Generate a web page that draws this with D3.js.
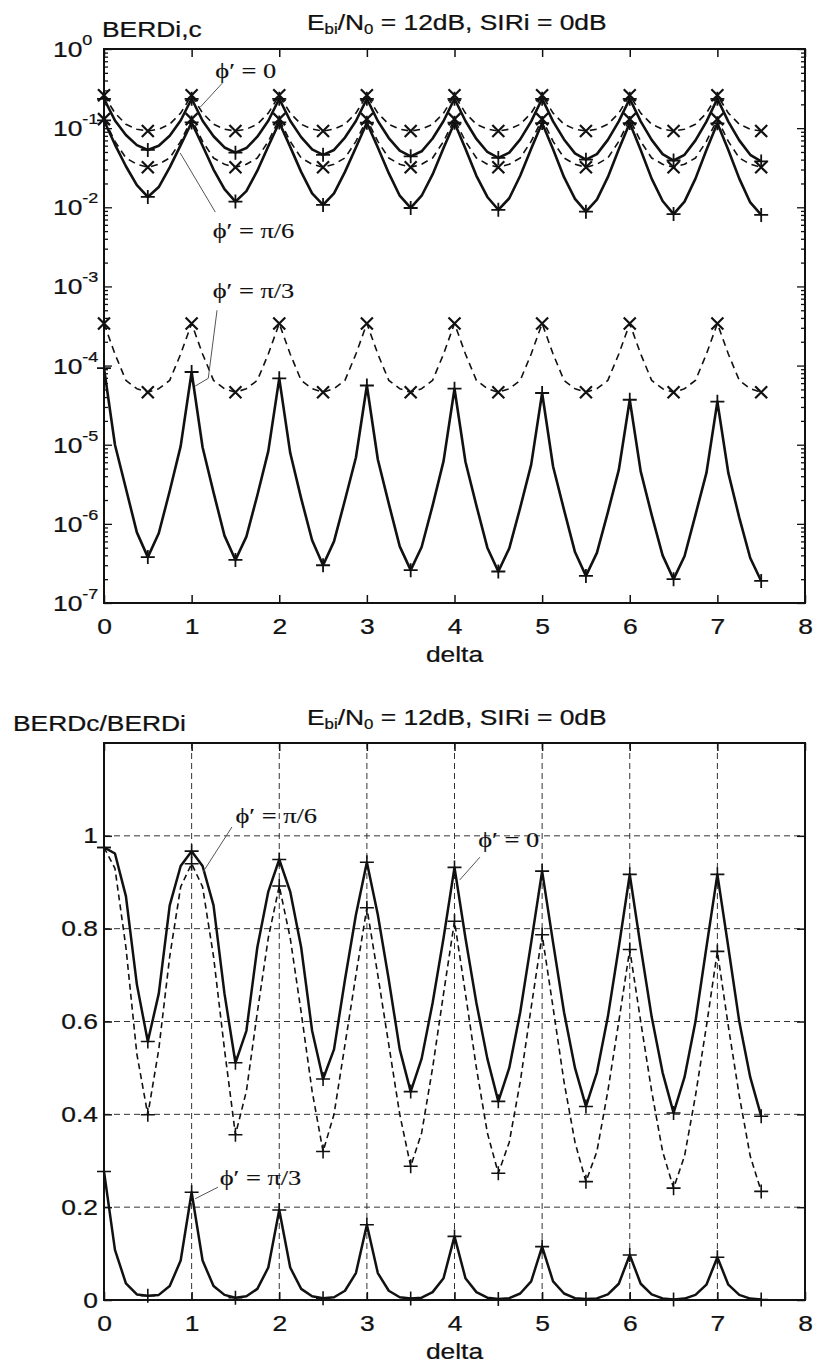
<!DOCTYPE html>
<html>
<head>
<meta charset="utf-8">
<script src="https://cdn.jsdelivr.net/npm/d3@7"></script>
<style>
  body { margin: 0; background: #fff; }
  svg { display: block; background: #fff; }
</style>
</head>
<body>
<svg id="chart" width="814" height="1368"></svg>
<script>
// delta sampling grid (curves are sampled every 1/8, markers every 1/2)
const delta = [
  0, 0.125, 0.25, 0.375, 0.5, 0.625, 0.75, 0.875,
  1, 1.125, 1.25, 1.375, 1.5, 1.625, 1.75, 1.875,
  2, 2.125, 2.25, 2.375, 2.5, 2.625, 2.75, 2.875,
  3, 3.125, 3.25, 3.375, 3.5, 3.625, 3.75, 3.875,
  4, 4.125, 4.25, 4.375, 4.5, 4.625, 4.75, 4.875,
  5, 5.125, 5.25, 5.375, 5.5, 5.625, 5.75, 5.875,
  6, 6.125, 6.25, 6.375, 6.5, 6.625, 6.75, 6.875,
  7, 7.125, 7.25, 7.375, 7.5
];

const xTicks = [0, 1, 2, 3, 4, 5, 6, 7, 8];
const yTopTicks = [1e-7, 1e-6, 1e-5, 1e-4, 1e-3, 1e-2, 1e-1, 1];
const yBotTicks = [0, 0.2, 0.4, 0.6, 0.8, 1];

// ---- upper plot: BERDi (dashed, x) and BERDc (solid, +) ----
const berdiPhi0 = [
  0.26, 0.155, 0.112, 0.097, 0.092, 0.097, 0.112, 0.155,
  0.26, 0.155, 0.112, 0.097, 0.092, 0.097, 0.112, 0.155,
  0.26, 0.155, 0.112, 0.097, 0.092, 0.097, 0.112, 0.155,
  0.26, 0.155, 0.112, 0.097, 0.092, 0.097, 0.112, 0.155,
  0.26, 0.155, 0.112, 0.097, 0.092, 0.097, 0.112, 0.155,
  0.26, 0.155, 0.112, 0.097, 0.092, 0.097, 0.112, 0.155,
  0.26, 0.155, 0.112, 0.097, 0.092, 0.097, 0.112, 0.155,
  0.26, 0.155, 0.112, 0.097, 0.092
];
const berdcPhi0 = [
  0.235, 0.125, 0.082, 0.061, 0.053, 0.060, 0.080, 0.125,
  0.235, 0.124, 0.079, 0.057, 0.049, 0.056, 0.078, 0.124,
  0.235, 0.124, 0.077, 0.054, 0.046, 0.053, 0.076, 0.123,
  0.235, 0.123, 0.075, 0.052, 0.044, 0.051, 0.074, 0.123,
  0.235, 0.123, 0.073, 0.050, 0.042, 0.049, 0.072, 0.122,
  0.235, 0.122, 0.072, 0.048, 0.040, 0.047, 0.071, 0.122,
  0.235, 0.122, 0.071, 0.047, 0.039, 0.046, 0.070, 0.121,
  0.235, 0.121, 0.070, 0.046, 0.038
];
const berdiPi6 = [
  0.13, 0.068, 0.042, 0.035, 0.032, 0.035, 0.042, 0.068,
  0.13, 0.068, 0.042, 0.035, 0.032, 0.035, 0.042, 0.068,
  0.13, 0.068, 0.042, 0.035, 0.032, 0.035, 0.042, 0.068,
  0.13, 0.068, 0.042, 0.035, 0.032, 0.035, 0.042, 0.068,
  0.13, 0.068, 0.042, 0.035, 0.032, 0.035, 0.042, 0.068,
  0.13, 0.068, 0.042, 0.035, 0.032, 0.035, 0.042, 0.068,
  0.13, 0.068, 0.042, 0.035, 0.032, 0.035, 0.042, 0.068,
  0.13, 0.068, 0.042, 0.035, 0.032
];
const berdcPi6 = [
  0.125, 0.062, 0.033, 0.019, 0.0135, 0.018, 0.032, 0.061,
  0.118, 0.060, 0.030, 0.017, 0.0118, 0.016, 0.029, 0.059,
  0.118, 0.058, 0.028, 0.015, 0.0107, 0.015, 0.028, 0.057,
  0.117, 0.057, 0.027, 0.014, 0.0098, 0.014, 0.026, 0.056,
  0.117, 0.055, 0.025, 0.0135, 0.0093, 0.013, 0.025, 0.055,
  0.116, 0.054, 0.024, 0.0128, 0.0088, 0.0125, 0.024, 0.054,
  0.116, 0.053, 0.023, 0.012, 0.0082, 0.0118, 0.023, 0.053,
  0.115, 0.053, 0.023, 0.0115, 0.0080
];
const berdiPi3 = [
  3.4e-4, 1.4e-4, 6.5e-5, 5.1e-5, 4.6e-5, 5.1e-5, 6.5e-5, 1.4e-4,
  3.4e-4, 1.4e-4, 6.5e-5, 5.1e-5, 4.6e-5, 5.1e-5, 6.5e-5, 1.4e-4,
  3.4e-4, 1.4e-4, 6.5e-5, 5.1e-5, 4.6e-5, 5.1e-5, 6.5e-5, 1.4e-4,
  3.4e-4, 1.4e-4, 6.5e-5, 5.1e-5, 4.6e-5, 5.1e-5, 6.5e-5, 1.4e-4,
  3.4e-4, 1.4e-4, 6.5e-5, 5.1e-5, 4.6e-5, 5.1e-5, 6.5e-5, 1.4e-4,
  3.4e-4, 1.4e-4, 6.5e-5, 5.1e-5, 4.6e-5, 5.1e-5, 6.5e-5, 1.4e-4,
  3.4e-4, 1.4e-4, 6.5e-5, 5.1e-5, 4.6e-5, 5.1e-5, 6.5e-5, 1.4e-4,
  3.4e-4, 1.4e-4, 6.5e-5, 5.1e-5, 4.6e-5
];
const berdcPi3 = [
  9.3e-5, 1.0e-5, 2.8e-6, 7.8e-7, 3.8e-7, 7.6e-7, 2.6e-6, 9.6e-6,
  8.3e-5, 9.3e-6, 2.5e-6, 7.1e-7, 3.5e-7, 6.9e-7, 2.3e-6, 8.3e-6,
  6.9e-5, 7.9e-6, 2.1e-6, 6.2e-7, 3.0e-7, 6.0e-7, 2.0e-6, 6.9e-6,
  5.6e-5, 6.5e-6, 1.8e-6, 5.2e-7, 2.6e-7, 5.1e-7, 1.7e-6, 6.2e-6,
  5.1e-5, 6.1e-6, 1.7e-6, 5.0e-7, 2.5e-7, 4.9e-7, 1.6e-6, 5.6e-6,
  4.5e-5, 5.3e-6, 1.5e-6, 4.4e-7, 2.2e-7, 4.3e-7, 1.4e-6, 4.8e-6,
  3.7e-5, 4.6e-6, 1.3e-6, 4.0e-7, 2.0e-7, 3.9e-7, 1.3e-6, 4.4e-6,
  3.5e-5, 4.4e-6, 1.2e-6, 3.7e-7, 1.9e-7
];

// ---- lower plot: BERDc / BERDi ----
const ratioPhi0 = [
  0.975, 0.962, 0.87, 0.68, 0.557, 0.66, 0.85, 0.935,
  0.967, 0.935, 0.85, 0.66, 0.511, 0.58, 0.76, 0.88,
  0.949, 0.88, 0.76, 0.58, 0.476, 0.54, 0.69, 0.83,
  0.943, 0.83, 0.69, 0.54, 0.449, 0.52, 0.64, 0.78,
  0.932, 0.78, 0.64, 0.52, 0.428, 0.50, 0.62, 0.77,
  0.924, 0.77, 0.62, 0.50, 0.417, 0.49, 0.61, 0.76,
  0.917, 0.76, 0.61, 0.49, 0.403, 0.48, 0.60, 0.76,
  0.917, 0.76, 0.60, 0.48, 0.396
];
const ratioPi6 = [
  0.975, 0.93, 0.76, 0.53, 0.399, 0.54, 0.74, 0.89,
  0.94, 0.89, 0.74, 0.54, 0.356, 0.45, 0.62, 0.78,
  0.892, 0.78, 0.62, 0.45, 0.320, 0.40, 0.55, 0.70,
  0.845, 0.70, 0.55, 0.40, 0.288, 0.36, 0.50, 0.66,
  0.816, 0.66, 0.50, 0.36, 0.273, 0.34, 0.47, 0.63,
  0.787, 0.63, 0.47, 0.34, 0.255, 0.32, 0.45, 0.60,
  0.755, 0.60, 0.45, 0.32, 0.241, 0.31, 0.44, 0.59,
  0.751, 0.59, 0.44, 0.31, 0.234
];
const ratioPi3 = [
  0.277, 0.108, 0.036, 0.012, 0.009, 0.011, 0.030, 0.085,
  0.232, 0.085, 0.030, 0.011, 0.005, 0.008, 0.024, 0.070,
  0.194, 0.070, 0.024, 0.008, 0.004, 0.006, 0.020, 0.058,
  0.162, 0.058, 0.020, 0.006, 0.003, 0.005, 0.017, 0.047,
  0.137, 0.047, 0.017, 0.005, 0.002, 0.004, 0.014, 0.040,
  0.115, 0.040, 0.014, 0.004, 0.002, 0.0035, 0.012, 0.035,
  0.097, 0.035, 0.012, 0.0035, 0.001, 0.003, 0.011, 0.033,
  0.092, 0.033, 0.011, 0.003, 0.001
];

const INK = '#111';
const SX = 1.2; // the scanned font is wide, stretch glyphs horizontally
const SANS = '"Liberation Sans", Arial, sans-serif';
const SERIF = '"Liberation Serif", "Times New Roman", "DejaVu Serif", serif';

const svg = d3.select('#chart');

const xTop = d3.scaleLinear().domain([0, 8]).range([104, 805]);
const yTop = d3.scaleLog().domain([1e-7, 1]).range([603, 49]);
const xBot = d3.scaleLinear().domain([0, 8]).range([104, 805]);
const yBot = d3.scaleLinear().domain([0, 1.2]).range([1300, 743]);

const plusPath = 'M-7,0H7M0,-7V7';
const crossPath = 'M-6,-6L6,6M-6,6L6,-6';

function inked(sel) {
  // the scan is heavy, thicken glyphs a little
  sel.attr('fill', INK).attr('stroke', INK).attr('stroke-width', 0.25);
}

function widen(sel) {
  sel.each(function () {
    const t = d3.select(this);
    const x = +t.attr('x') || 0;
    t.attr('x', 0).attr('transform', `translate(${x},0) scale(${SX},1)`);
  });
}

function text(g, x, y, str, size, anchor, family) {
  return g.append('text')
    .attr('transform', `translate(${x},${y}) scale(${SX},1)`)
    .attr('font-family', family || SANS)
    .attr('font-size', size)
    .attr('text-anchor', anchor || 'start')
    .call(inked)
    .text(str);
}

function frame(g, x, y) {
  const [x0, x1] = x.range();
  const [yb, yt] = y.range();
  g.append('rect')
    .attr('x', x0).attr('y', yt)
    .attr('width', x1 - x0).attr('height', yb - yt)
    .attr('fill', 'none').attr('stroke', INK).attr('stroke-width', 2);
}

function xAxes(g, x, y) {
  const bottom = g.append('g')
    .attr('transform', `translate(0,${y.range()[0]})`)
    .call(d3.axisBottom(x).tickValues(xTicks).tickSize(-8).tickPadding(15).tickFormat(d3.format('d')));
  const top = g.append('g')
    .attr('transform', `translate(0,${y.range()[1]})`)
    .call(d3.axisTop(x).tickValues(xTicks).tickSize(-8).tickFormat(''));
  [bottom, top].forEach(a => {
    a.select('.domain').remove();
    a.selectAll('line').attr('stroke', INK).attr('stroke-width', 1.5);
  });
  bottom.selectAll('text')
    .attr('font-family', SANS).attr('font-size', 22)
    .call(inked)
    .call(widen);
  const [x0, x1] = x.range();
  text(g, (x0 + x1) / 2, y.range()[0] + 59, 'delta', 22, 'middle');
}

function drawSeries(g, x, y, vals, opt) {
  const pts = delta.map((d, i) => ({ d: d, v: vals[i] }));
  const line = d3.line().x(p => x(p.d)).y(p => y(p.v));
  g.append('path')
    .datum(pts)
    .attr('d', line)
    .attr('fill', 'none')
    .attr('stroke', INK)
    .attr('stroke-width', opt.width)
    .attr('stroke-linejoin', 'round')
    .attr('stroke-dasharray', opt.dash || null);
  g.selectAll(null)
    .data(pts.filter(p => p.d % 0.5 === 0))
    .join('path')
    .attr('transform', p => `translate(${x(p.d)},${y(p.v)})`)
    .attr('d', opt.marker === 'x' ? crossPath : plusPath)
    .attr('fill', 'none')
    .attr('stroke', INK)
    .attr('stroke-width', opt.mw || 1.8);
}

function title(g, yBase) {
  const t = g.append('text')
    .attr('transform', `translate(307,${yBase}) scale(${SX},1)`)
    .attr('font-family', SANS).attr('font-size', 22)
    .call(inked);
  t.append('tspan').text('E');
  t.append('tspan').attr('font-size', 14).attr('dy', 4).text('bi');
  t.append('tspan').attr('dy', -4).text('/N');
  t.append('tspan').attr('font-size', 14).attr('dy', 4).text('0');
  t.append('tspan').attr('dy', -4).text(' = 12dB, SIRi = 0dB');
}

function annotate(g, x, y, notes) {
  notes.forEach(n => {
    g.append('path')
      .attr('d', d3.line()(n.line.map(p => [x(p[0]), y(p[1])])))
      .attr('fill', 'none').attr('stroke', '#555').attr('stroke-width', 1);
    text(g, x(n.pos[0]), y(n.pos[1]), n.label, 22, 'start', SERIF)
      .attr('stroke-width', 0.15);
  });
}

// ================= upper panel =================
const gTop = svg.append('g');
frame(gTop, xTop, yTop);
xAxes(gTop, xTop, yTop);

const minors = yTop.ticks().filter(v => yTopTicks.indexOf(v) < 0);
[
  [d3.axisLeft, 104],
  [d3.axisRight, 805]
].forEach(([axisFn, xPos]) => {
  const a = gTop.append('g').attr('transform', `translate(${xPos},0)`);
  a.append('g').call(axisFn(yTop).tickValues(yTopTicks).tickSize(-8).tickFormat(''));
  a.append('g').call(axisFn(yTop).tickValues(minors).tickSize(-4).tickFormat(''));
  a.selectAll('.domain').remove();
  a.selectAll('line').attr('stroke', INK).attr('stroke-width', 1.3);
});

gTop.selectAll('text.ylog')
  .data(yTopTicks)
  .join('text')
  .attr('class', 'ylog')
  .attr('transform', v => `translate(53,${yTop(v) + 8}) scale(${SX},1)`)
  .attr('font-family', SANS)
  .call(inked)
  .each(function (v) {
    const t = d3.select(this);
    t.append('tspan').attr('font-size', 22).text('10');
    t.append('tspan').attr('font-size', 15).attr('dy', -12)
      .text(String(Math.round(Math.log10(v))));
  });

text(gTop, 102, 37, 'BERDi,c', 22);
title(gTop, 30);

drawSeries(gTop, xTop, yTop, berdiPhi0, { width: 1.6, dash: '7,5', marker: 'x', mw: 2.2 });
drawSeries(gTop, xTop, yTop, berdiPi6, { width: 1.6, dash: '7,5', marker: 'x', mw: 2.2 });
drawSeries(gTop, xTop, yTop, berdiPi3, { width: 1.6, dash: '7,5', marker: 'x', mw: 2.2 });
drawSeries(gTop, xTop, yTop, berdcPhi0, { width: 2.6, marker: '+' });
drawSeries(gTop, xTop, yTop, berdcPi6, { width: 2.6, marker: '+' });
drawSeries(gTop, xTop, yTop, berdcPi3, { width: 2.6, marker: '+' });

annotate(gTop, xTop, yTop, [
  { label: 'ϕ′ = 0', pos: [1.27, 0.43], line: [[1.35, 0.37], [1.10, 0.185]] },
  { label: 'ϕ′ = π/6', pos: [1.24, 0.0041], line: [[1.27, 0.0087], [0.87, 0.0485]] },
  { label: 'ϕ′ = π/3', pos: [1.24, 7.1e-4], line: [[1.29, 5.0e-4], [1.19, 6.9e-5], [1.04, 5.5e-5]] }
]);

// ================= lower panel =================
const gBot = svg.append('g');

// dashed grid
gBot.append('g').selectAll('line')
  .data(xTicks.slice(1, -1))
  .join('line')
  .attr('x1', d => xBot(d)).attr('x2', d => xBot(d))
  .attr('y1', yBot.range()[1]).attr('y2', yBot.range()[0]);
gBot.append('g').selectAll('line')
  .data(yBotTicks.slice(1))
  .join('line')
  .attr('x1', xBot.range()[0]).attr('x2', xBot.range()[1])
  .attr('y1', d => yBot(d)).attr('y2', d => yBot(d));
gBot.selectAll('g line')
  .attr('stroke', '#333').attr('stroke-width', 1).attr('stroke-dasharray', '6,4');

frame(gBot, xBot, yBot);
xAxes(gBot, xBot, yBot);

const leftB = gBot.append('g').attr('transform', 'translate(104,0)')
  .call(d3.axisLeft(yBot).tickValues(yBotTicks).tickSize(-8).tickPadding(6).tickFormat(d3.format('~g')));
const rightB = gBot.append('g').attr('transform', 'translate(805,0)')
  .call(d3.axisRight(yBot).tickValues(yBotTicks).tickSize(-8).tickFormat(''));
[leftB, rightB].forEach(a => {
  a.select('.domain').remove();
  a.selectAll('line').attr('stroke', INK).attr('stroke-width', 1.5);
});
leftB.selectAll('text')
  .attr('font-family', SANS).attr('font-size', 22)
  .call(inked)
  .call(widen);

text(gBot, 13, 731, 'BERDc/BERDi', 22);
title(gBot, 725);

drawSeries(gBot, xBot, yBot, ratioPi6, { width: 1.6, dash: '6,4', marker: '+', mw: 1.6 });
drawSeries(gBot, xBot, yBot, ratioPhi0, { width: 2.5, marker: '+', mw: 1.6 });
drawSeries(gBot, xBot, yBot, ratioPi3, { width: 2.5, marker: '+', mw: 1.6 });

annotate(gBot, xBot, yBot, [
  { label: 'ϕ′ = π/6', pos: [1.50, 1.028], line: [[1.46, 1.019], [1.13, 0.922]] },
  { label: 'ϕ′ = 0', pos: [4.27, 0.976], line: [[4.29, 0.954], [4.06, 0.905]] },
  { label: 'ϕ′ = π/3', pos: [1.32, 0.248], line: [[1.30, 0.243], [1.04, 0.218]] }
]);
</script>
</body>
</html>
